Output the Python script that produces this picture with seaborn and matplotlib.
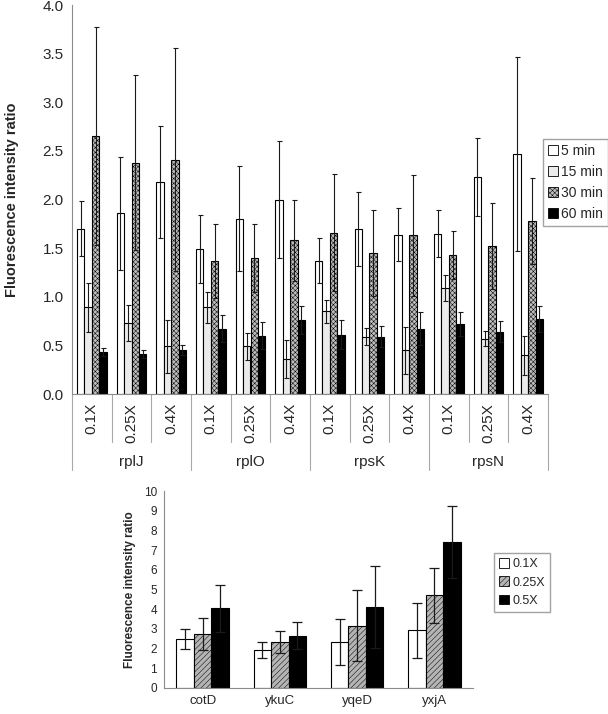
import numpy as np
import pandas as pd
import seaborn as sns
import matplotlib.pyplot as plt
from matplotlib.patches import Patch

# ---- top panel data: order rplJ 0.1X, 0.25X, 0.4X, rplO ..., rpsN 0.4X
genes = ['rplJ', 'rplO', 'rpsK', 'rpsN']
concs = ['0.1X', '0.25X', '0.4X']
times = ['5 min', '15 min', '30 min', '60 min']

ratio_5 = [1.70, 1.86, 2.18, 1.49, 1.80, 2.00, 1.37, 1.70, 1.64, 1.65, 2.23, 2.47]
err_5 = [0.28, 0.58, 0.58, 0.35, 0.54, 0.60, 0.23, 0.38, 0.27, 0.24, 0.40, 1.00]
ratio_15 = [0.89, 0.73, 0.49, 0.89, 0.49, 0.36, 0.85, 0.59, 0.45, 1.09, 0.57, 0.40]
err_15 = [0.25, 0.19, 0.27, 0.16, 0.14, 0.20, 0.12, 0.09, 0.24, 0.13, 0.08, 0.20]
ratio_30 = [2.65, 2.38, 2.41, 1.37, 1.40, 1.58, 1.66, 1.45, 1.63, 1.43, 1.52, 1.78]
err_30 = [1.12, 0.90, 1.15, 0.38, 0.35, 0.42, 0.60, 0.44, 0.62, 0.25, 0.44, 0.44]
ratio_60 = [0.43, 0.41, 0.45, 0.67, 0.60, 0.76, 0.61, 0.59, 0.67, 0.72, 0.64, 0.77]
err_60 = [0.04, 0.04, 0.05, 0.14, 0.14, 0.14, 0.15, 0.11, 0.17, 0.12, 0.11, 0.13]

# ---- bottom panel data
genes2 = ['cotD', 'ykuC', 'yqeD', 'yxjA']
doses2 = ['0.1X', '0.25X', '0.5X']
ratio_01 = [2.50, 1.92, 2.33, 2.93]
err_01 = [0.50, 0.40, 1.15, 1.39]
ratio_025 = [2.73, 2.33, 3.17, 4.70]
err_025 = [0.82, 0.57, 1.80, 1.40]
ratio_05 = [4.05, 2.65, 4.13, 7.40]
err_05 = [1.20, 0.68, 2.08, 1.82]

sns.set_style('white')
plt.rcParams['font.family'] = ['Liberation Sans', 'DejaVu Sans']
plt.rcParams['hatch.linewidth'] = 0.35

W, H = 608, 714
fig = plt.figure(figsize=(W / 100, H / 100), dpi=100)

def ax_rect(l, t, r, b):
    return [l / W, 1 - b / H, (r - l) / W, (b - t) / H]

axis_grey = '#8c8c8c'
ecol = '#1a1a1a'

# ================= top panel =================
ax1 = fig.add_axes(ax_rect(72, 5, 548, 394))
samples = [f'{g} {c}' for g in genes for c in concs]
top_vals = [ratio_5, ratio_15, ratio_30, ratio_60]
top_errs = [err_5, err_15, err_30, err_60]
df1 = pd.DataFrame({
    'sample': samples * 4,
    'time': np.repeat(times, len(samples)),
    'ratio': np.concatenate(top_vals),
})
top_colors = ['white', '#ebebeb', '#bdbdbd', 'black']
sns.barplot(data=df1, x='sample', y='ratio', hue='time', order=samples,
            hue_order=times, palette=top_colors, edgecolor='black',
            linewidth=0.8, width=0.74, errorbar=None, legend=False,
            saturation=1, ax=ax1)

for i, (cont, err) in enumerate(zip(ax1.containers, top_errs)):
    if i == 2:
        for p in cont:
            p.set_hatch('xxxxxxx')
    xs = [p.get_x() + p.get_width() / 2 for p in cont]
    hs = [p.get_height() for p in cont]
    ax1.errorbar(xs, hs, yerr=err, fmt='none', ecolor=ecol, elinewidth=0.8,
                 capsize=1.8, capthick=0.8, zorder=5)

ax1.set_ylim(0, 4.0)
ax1.set_xlim(-0.5, len(samples) - 0.5)
ax1.set_yticks(np.arange(0, 4.01, 0.5))
ax1.set_yticklabels([f'{v:.1f}' for v in np.arange(0, 4.01, 0.5)], fontsize=11)
ax1.tick_params(axis='y', direction='out', length=4, width=0.8, color=axis_grey, pad=2)
ax1.set_xticks([])
ax1.set_xlabel('')
ax1.set_ylabel('Fluorescence intensity ratio', fontsize=10.5, fontweight='bold')
ax1.yaxis.set_label_coords(-0.112, 0.5)
for s in ['top', 'right']:
    ax1.spines[s].set_visible(False)
for s in ['left', 'bottom']:
    ax1.spines[s].set_color(axis_grey)
    ax1.spines[s].set_linewidth(0.8)

# two-level category axis
trans = ax1.get_xaxis_transform()
ax_h = 389.0
for k in range(len(samples) + 1):
    x = k - 0.5
    depth = 76 if k % 3 == 0 else 48
    ax1.plot([x, x], [0, -depth / ax_h], transform=trans, color='#a8a8a8',
             lw=0.8, clip_on=False)
for k, s in enumerate(samples):
    ax1.text(k, -9 / ax_h, s.split()[1], transform=trans, rotation=90,
             ha='center', va='top', fontsize=11)
for j, g in enumerate(genes):
    ax1.text(3 * j + 1, -68 / ax_h, g, transform=trans, ha='center',
             va='center', fontsize=11)

h1 = [Patch(facecolor=c, edgecolor='black', linewidth=0.6,
            hatch='xxxxxxx' if i == 2 else None) for i, c in enumerate(top_colors)]
fig.legend(h1, times, loc='upper left', bbox_to_anchor=(543 / W, 1 - 139 / H),
           fontsize=10, frameon=True, fancybox=False, edgecolor=axis_grey,
           handlelength=0.7, handleheight=0.7, handletextpad=0.25,
           labelspacing=0.5, borderpad=0.35, borderaxespad=0)

# ================= bottom panel =================
ax2 = fig.add_axes(ax_rect(164, 491, 473, 688))
bot_vals = [ratio_01, ratio_025, ratio_05]
bot_errs = [err_01, err_025, err_05]
df2 = pd.DataFrame({
    'gene': genes2 * 3,
    'dose': np.repeat(doses2, len(genes2)),
    'ratio': np.concatenate(bot_vals),
})
bot_colors = ['white', '#b4b4b4', 'black']
sns.barplot(data=df2, x='gene', y='ratio', hue='dose', order=genes2,
            hue_order=doses2, palette=bot_colors, edgecolor='black',
            linewidth=0.8, width=0.68, errorbar=None, legend=False,
            saturation=1, ax=ax2)
for i, (cont, err) in enumerate(zip(ax2.containers, bot_errs)):
    if i == 1:
        for p in cont:
            p.set_hatch('//////')
    xs = [p.get_x() + p.get_width() / 2 for p in cont]
    hs = [p.get_height() for p in cont]
    ax2.errorbar(xs, hs, yerr=err, fmt='none', ecolor=ecol, elinewidth=0.9,
                 capsize=3.6, capthick=0.9, zorder=5)

ax2.set_ylim(0, 10)
ax2.set_xlim(-0.5, len(genes2) - 0.5)
ax2.set_yticks(range(0, 11))
ax2.tick_params(axis='y', labelsize=8.5, direction='out', length=3, width=0.7,
                color=axis_grey, pad=2)
ax2.set_xticks(range(len(genes2)))
ax2.set_xticklabels(genes2, fontsize=9.5)
ax2.tick_params(axis='x', length=0, pad=5)
ax2.set_xticks(np.arange(-0.5, len(genes2)), minor=True)
ax2.tick_params(axis='x', which='minor', direction='out', length=3, width=0.7,
                color=axis_grey)
ax2.set_xlabel('')
ax2.set_ylabel('Fluorescence intensity ratio', fontsize=8.5, fontweight='bold')
ax2.yaxis.set_label_coords(-0.092, 0.5)
for s in ['top', 'right']:
    ax2.spines[s].set_visible(False)
for s in ['left', 'bottom']:
    ax2.spines[s].set_color(axis_grey)
    ax2.spines[s].set_linewidth(0.8)

h2 = [Patch(facecolor=c, edgecolor='black', linewidth=0.6,
            hatch='//////' if i == 1 else None) for i, c in enumerate(bot_colors)]
fig.legend(h2, doses2, loc='upper left', bbox_to_anchor=(494 / W, 1 - 553 / H),
           fontsize=9, frameon=True, fancybox=False, edgecolor=axis_grey,
           handlelength=0.8, handleheight=0.8, handletextpad=0.3,
           labelspacing=0.5, borderpad=0.4, borderaxespad=0)

fig.savefig('out.png', dpi=100, facecolor='white')
